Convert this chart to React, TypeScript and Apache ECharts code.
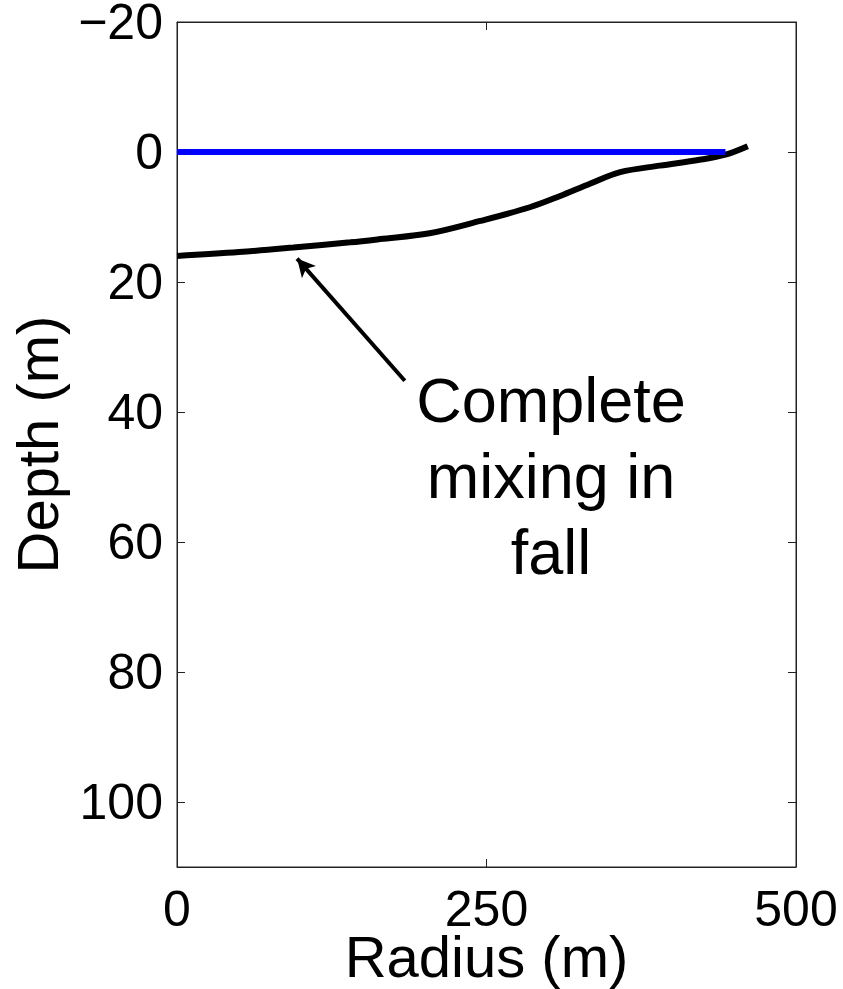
import React, { useEffect, useRef } from "react";
import * as echarts from "echarts";

// Interface radius (m) and depth (m) of the fall mixing profile
const mixRadius = [0, 50, 94, 140, 164, 204, 245, 285, 309, 334, 358, 390, 422, 443, 461];
const mixDepth = [16.0, 15.4, 14.7, 13.9, 13.4, 12.5, 10.6, 8.5, 6.8, 4.85, 3.1, 2.1, 1.2, 0.4, -0.9];

// Water surface
const surfaceRadius = [0, 443];
const surfaceDepth = [0, 0];

const xTicks = [0, 250, 500];
const yTicks = [-20, 0, 20, 40, 60, 80, 100];

// Annotation arrow: tail and head in data coordinates
const arrowTail = [184, 35.2];
const arrowHead = [97, 16.4];
const noteText = "Complete\nmixing in\nfall";

const FONT = "'Liberation Sans', Arial, Helvetica, sans-serif";

export default function App() {
  const ref = useRef<HTMLDivElement>(null);

  useEffect(() => {
    document.body.style.margin = "0";
    if (!ref.current) return;
    const chart = echarts.init(ref.current, undefined, { renderer: "svg" });
    const axisLine = { show: true, onZero: false, lineStyle: { color: "#222", width: 1 } };
    const tickStyle = { inside: true, length: 8, lineStyle: { color: "#222", width: 1 } };
    const labelStyle = { color: "#000", fontSize: 50, lineHeight: 38, fontFamily: FONT };
    const nameStyle = { color: "#000", fontSize: 58, lineHeight: 48, fontFamily: FONT };

    chart.setOption({
      animation: false,
      backgroundColor: "#fff",
      grid: {
        left: 177,
        right: 47,
        top: 22,
        bottom: 122,
        outerBoundsMode: "none",
        containLabel: false,
        show: true,
        borderColor: "#222",
        borderWidth: 1,
      },
      xAxis: [
        {
          type: "value",
          min: 0,
          max: 500,
          position: "bottom",
          name: "Radius (m)",
          nameLocation: "middle",
          nameGap: 65,
          nameMoveOverlap: false,
          nameTextStyle: { ...nameStyle },
          axisLine,
          axisTick: { ...tickStyle, customValues: xTicks },
          axisLabel: { ...labelStyle, margin: 23, customValues: xTicks },
          splitLine: { show: false },
        },
        {
          type: "value",
          min: 0,
          max: 500,
          position: "top",
          axisLine,
          axisTick: { ...tickStyle, customValues: xTicks },
          axisLabel: { show: false },
          splitLine: { show: false },
        },
      ],
      yAxis: [
        {
          type: "value",
          min: -20,
          max: 110,
          inverse: true,
          position: "left",
          name: "Depth (m)",
          nameLocation: "middle",
          nameGap: 140,
          nameMoveOverlap: false,
          nameTextStyle: { ...nameStyle, verticalAlign: "middle" },
          axisLine,
          axisTick: { ...tickStyle, customValues: yTicks },
          axisLabel: {
            ...labelStyle,
            margin: 14,
            customValues: yTicks,
            formatter: (v: number) => (v < 0 ? "\u2212" + Math.abs(v) : String(v)),
          },
          splitLine: { show: false },
        },
        {
          type: "value",
          min: -20,
          max: 110,
          inverse: true,
          position: "right",
          axisLine,
          axisTick: { ...tickStyle, customValues: yTicks },
          axisLabel: { show: false },
          splitLine: { show: false },
        },
      ],
      series: [
        {
          type: "line",
          data: mixRadius.map((r, i) => [r, mixDepth[i]]),
          smooth: 0.35,
          showSymbol: false,
          lineStyle: { color: "#000", width: 6 },
          z: 2,
          markLine: {
            silent: true,
            symbol: ["none", "arrow"],
            symbolSize: [14, 18],
            label: { show: false },
            lineStyle: { color: "#000", width: 4, type: "solid" },
            data: [[{ coord: arrowTail }, { coord: arrowHead }]],
          },
        },
        {
          type: "line",
          data: surfaceRadius.map((r, i) => [r, surfaceDepth[i]]),
          showSymbol: false,
          lineStyle: { color: "#0000ff", width: 6 },
          z: 3,
        },
      ],
      graphic: [
        {
          type: "text",
          x: 551,
          y: 362,
          style: {
            text: noteText,
            fill: "#000",
            fontSize: 63,
            fontFamily: FONT,
            lineHeight: 76,
            align: "center",
          },
        },
      ],
    });

    return () => chart.dispose();
  }, []);

  return <div ref={ref} style={{ width: 843, height: 989 }} />;
}
